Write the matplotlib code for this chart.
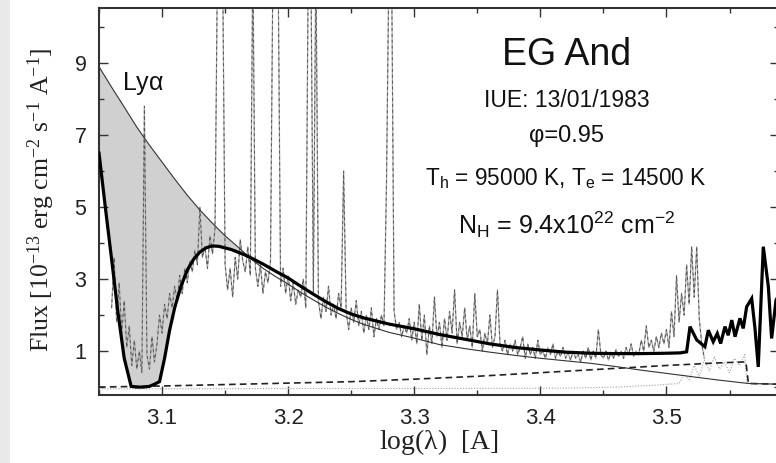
import numpy as np
import matplotlib
matplotlib.use("Agg")
import matplotlib.pyplot as plt
from matplotlib.patches import Rectangle
from matplotlib.ticker import MultipleLocator, FixedLocator, FixedFormatter

plt.rcParams['mathtext.default'] = 'regular'

# ---------------- data ----------------
# upper (unabsorbed) model, thin line
thin_x = [3.05, 3.06, 3.07, 3.08, 3.09, 3.10, 3.11, 3.12, 3.13, 3.14, 3.15, 3.16, 3.17,
          3.18, 3.19, 3.20, 3.21, 3.22, 3.23, 3.24, 3.25, 3.26, 3.28, 3.30, 3.32, 3.34,
          3.36, 3.38, 3.40, 3.42, 3.44, 3.46, 3.48, 3.50, 3.52, 3.54, 3.565, 3.59]
thin_y = [8.9, 8.33, 7.78, 7.22, 6.72, 6.25, 5.78, 5.33, 4.92, 4.55, 4.2, 3.9, 3.58,
          3.3, 3.07, 2.86, 2.63, 2.42, 2.22, 2.04, 1.88, 1.74, 1.52, 1.36, 1.18, 1.07,
          0.97, 0.88, 0.8, 0.73, 0.66, 0.57, 0.47, 0.38, 0.29, 0.2, 0.1, 0.08]

# total (absorbed) model, thick line
thick_x = [3.05, 3.055, 3.06, 3.065, 3.07, 3.0755, 3.08, 3.085, 3.09, 3.094, 3.098, 3.102,
           3.106, 3.11, 3.115, 3.12, 3.125, 3.13, 3.135, 3.14, 3.145, 3.155, 3.165, 3.17,
           3.18, 3.19, 3.20, 3.21, 3.22, 3.23, 3.24, 3.25, 3.26, 3.28, 3.30, 3.32, 3.34,
           3.36, 3.38, 3.40, 3.42, 3.44, 3.46, 3.48, 3.50, 3.511, 3.516, 3.5187, 3.524,
           3.5305, 3.5332, 3.5371, 3.5403, 3.543, 3.5464, 3.549, 3.5518, 3.5544, 3.5583,
           3.5609, 3.5636, 3.5676, 3.5702, 3.5728, 3.5768, 3.5808, 3.5834, 3.5869, 3.59]
thick_y = [6.5, 5.0, 3.55, 2.08, 0.8, 0.02, 0.0, 0.0, 0.02, 0.08, 0.15, 0.8,
           1.58, 2.2, 2.8, 3.25, 3.55, 3.75, 3.87, 3.92, 3.91, 3.82, 3.68, 3.6,
           3.42, 3.22, 3.03, 2.8, 2.58, 2.37, 2.18, 2.03, 1.92, 1.75, 1.62, 1.46, 1.33,
           1.2, 1.1, 1.03, 0.97, 0.94, 0.93, 0.93, 0.94, 0.95, 0.98, 1.68, 1.31,
           1.12, 1.58, 1.26, 1.49, 1.21, 1.68, 1.44, 1.86, 1.40, 1.91,
           1.63, 2.23, 2.46, 1.63, 0.56, 3.90, 2.79, 1.35, 2.42, 2.6]

# nebular component, dashed line
dash_x = [3.05, 3.10, 3.15, 3.20, 3.25, 3.30, 3.35, 3.40, 3.45, 3.50, 3.54, 3.563, 3.565, 3.59]
dash_y = [0.0, 0.03, 0.07, 0.11, 0.15, 0.22, 0.30, 0.40, 0.50, 0.60, 0.67, 0.70, 0.10, 0.08]

# giant component, dotted line
dot_x = [3.05, 3.20, 3.30, 3.42, 3.46, 3.49, 3.51, 3.514, 3.518, 3.522, 3.526, 3.53,
         3.534, 3.538, 3.542, 3.546, 3.55, 3.554, 3.558, 3.562, 3.564, 3.59]
dot_y = [-0.05, -0.04, -0.04, -0.03, 0.0, 0.05, 0.1, 0.35, 0.2, 0.6, 0.3, 0.75,
         0.45, 0.85, 0.5, 0.7, 0.4, 0.8, 0.6, 0.9, 0.1, 0.08]

# observed IUE spectrum (log lambda from 3.060, step 0.002)
spec_start = 3.060
spec_step = 0.002
spec_flux = [
    2.2, 3.6, 1.8, 2.9, 1.5, 2.4, 1.1, 1.7, 0.6, 1.3,
    0.5, 1.0, 0.4, 7.8, 0.9, 0.5, 1.4, 0.7, 1.2, 2.0,
    1.5, 2.3, 1.9, 2.6, 2.2, 2.8, 2.4, 3.1, 2.6, 3.3,
    2.9, 3.5, 3.2, 3.8, 3.4, 5.0, 3.6, 3.9, 3.3, 4.2,
    3.7, 4.4, 12.0, 11.0, 12.0, 3.4, 2.7, 3.3, 2.5, 3.6,
    3.0, 4.1, 3.5, 3.2, 3.9, 3.1, 12.0, 3.3, 2.8, 3.4,
    2.6, 3.2, 2.9, 3.5, 12.0, 12.0, 12.0, 2.8, 3.3, 2.6,
    3.1, 2.4, 2.9, 2.3, 2.7, 2.5, 3.0, 2.2, 12.0, 12.0,
    2.6, 12.0, 2.4, 1.9, 2.5, 2.1, 2.8, 2.0, 2.3, 1.9,
    2.6, 2.2, 6.0, 2.1, 1.6, 2.2, 1.8, 2.4, 1.7, 2.1,
    1.5, 2.0, 1.6, 2.2, 1.4, 1.9, 1.6, 2.0, 1.7, 5.7,
    12.0, 12.0, 2.1, 1.6, 1.8, 1.4, 1.7, 1.5, 1.9, 1.3,
    1.8, 1.2, 2.3, 1.3, 2.0, 0.9, 1.7, 1.2, 2.5, 1.4,
    1.8, 1.1, 1.9, 1.3, 2.1, 1.5, 2.7, 1.2, 1.8, 1.4,
    2.2, 1.3, 1.7, 1.1, 2.6, 1.4, 1.6, 1.0, 1.5, 1.2,
    2.0, 1.1, 1.4, 2.7, 1.2, 1.0, 1.3, 0.9, 1.2, 1.0,
    1.3, 0.9, 1.1, 1.4, 0.8, 1.2, 0.9, 1.1, 0.8, 1.3,
    0.9, 1.0, 0.8, 1.1, 0.9, 1.2, 0.8, 1.0, 0.85, 1.1,
    0.8, 0.95, 0.75, 1.0, 0.8, 0.9, 0.7, 1.0, 0.8, 1.1,
    0.75, 1.0, 0.8, 1.6, 0.9, 0.8, 1.0, 0.75, 0.95, 0.8,
    1.05, 0.85, 1.0, 0.8, 1.1, 0.9, 1.2, 0.85, 1.0, 0.9,
    1.3, 1.0, 1.7, 1.1, 1.3, 1.0, 1.4, 1.1, 1.5, 1.2,
    1.6, 1.1, 2.1, 1.4, 3.1, 1.8, 2.6, 2.0, 3.4, 2.3,
    3.9, 2.5, 3.9, 1.9, 1.2, 0.8]
spec_x = spec_start + spec_step * np.arange(len(spec_flux))

x_ticks = [3.1, 3.2, 3.3, 3.4, 3.5]
x_ticklabels = ['3.1', '3.2', '3.3', '3.4', '3.5']
y_ticks = [1, 3, 5, 7, 9]
y_ticklabels = ['1', '3', '5', '7', '9']

# ---------------- figure ----------------
W, H = 776, 463
fig = plt.figure(figsize=(W / 100, H / 100), dpi=100)
fig.patches.append(Rectangle((0, 0), 10 / W, 1, transform=fig.transFigure,
                             facecolor='#e9e9e9', edgecolor='none', zorder=-5))

ax_l, ax_r, ax_t, ax_b = 99, 779, 8.3, 395
ax = fig.add_axes([ax_l / W, (H - ax_b) / H, (ax_r - ax_l) / W, (ax_b - ax_t) / H])

x0 = 3.05
x1 = x0 + (ax_r - ax_l) / 1261.0
ax.set_xlim(x0, x1)
ax.set_ylim(-0.22, -0.22 + (ax_b - ax_t) / 36.0)

# shaded absorbed region
fxx = np.union1d([t for t in thin_x if t <= 3.17], [t for t in thick_x if t <= 3.17])
ax.fill_between(fxx, np.interp(fxx, thick_x, thick_y), np.interp(fxx, thin_x, thin_y),
                facecolor='#d0d0d0', edgecolor='none', zorder=1)

# observed spectrum
ax.plot(spec_x, spec_flux, color='#a8a8a8', lw=0.9, zorder=2)
ax.plot(spec_x, spec_flux, color='#555555', lw=0.7, dashes=(3, 3), zorder=2.1)

# model components
ax.plot(dot_x, dot_y, color='#a0a0a0', lw=0.8, ls=(0, (1, 1.5)), zorder=3)
ax.plot(dash_x, dash_y, color='#222222', lw=1.2, dashes=(4, 2.5), zorder=3)
ax.plot(thin_x, thin_y, color='#333333', lw=0.8, zorder=4)
ax.plot(thick_x, thick_y, color='black', lw=2.3, zorder=5, solid_joinstyle='miter')

# axes style
for s in ax.spines.values():
    s.set_linewidth(1.5)
    s.set_color('#333333')
ax.xaxis.set_major_locator(FixedLocator(x_ticks))
ax.xaxis.set_major_formatter(FixedFormatter(x_ticklabels))
ax.xaxis.set_minor_locator(MultipleLocator(0.05))
ax.yaxis.set_major_locator(FixedLocator(y_ticks))
ax.yaxis.set_major_formatter(FixedFormatter(y_ticklabels))
ax.yaxis.set_minor_locator(MultipleLocator(1))
ax.tick_params(which='both', direction='in', top=True, right=True, color='#333333', width=1.0)
ax.tick_params(which='major', length=6.5)
ax.tick_params(which='minor', length=3.6)
ax.tick_params(axis='x', which='major', labelsize=16, pad=9)
ax.tick_params(axis='y', which='major', labelsize=15.5, pad=9)
for lab in ax.get_xticklabels() + ax.get_yticklabels():
    lab.set_family('Liberation Sans')
    lab.set_color('#222222')

ax.set_xlabel(r'log($\lambda$)  [A]', family='Liberation Serif', fontsize=20, color='#222222')
ax.xaxis.set_label_coords(0.5, (ax_b - 427) / (ax_b - ax_t))
ax.xaxis.label.set_va('top')
ax.set_ylabel(r'Flux [10$^{-13}$ erg cm$^{-2}$ s$^{-1}$ A$^{-1}$]', family='Liberation Serif',
              fontsize=18.5, color='#222222')
ax.yaxis.label.set_va('bottom')
ax.yaxis.set_label_coords((57 - ax_l) / (ax_r - ax_l), 0.505)


def fx_(px):
    return (px - ax_l) / (ax_r - ax_l)


def fy_(py):
    return (ax_b - py) / (ax_b - ax_t)


tk = dict(transform=ax.transAxes, family='Liberation Sans', color='#111111', va='baseline', zorder=6)
ax.text(fx_(566.7), fy_(65), 'EG And', ha='center', fontsize=27, **tk)
ax.text(fx_(566.7), fy_(107.3), 'IUE: 13/01/1983', ha='center', fontsize=16.5, **tk)
ax.text(fx_(566.7), fy_(141.7), r'φ=0.95', ha='center', fontsize=17, **tk)
ax.text(fx_(566.0), fy_(185), r'T$_h$ = 95000 K, T$_e$ = 14500 K', ha='center', fontsize=16.3, **tk)
ax.text(fx_(566.7), fy_(233.3), r'N$_H$ = 9.4x10$^{22}$ cm$^{-2}$', ha='center', fontsize=18, **tk)
ax.text(fx_(121.7), fy_(90), r'Ly$\alpha$', ha='left', fontsize=18, **tk)

fig.savefig('out.png', dpi=100)
